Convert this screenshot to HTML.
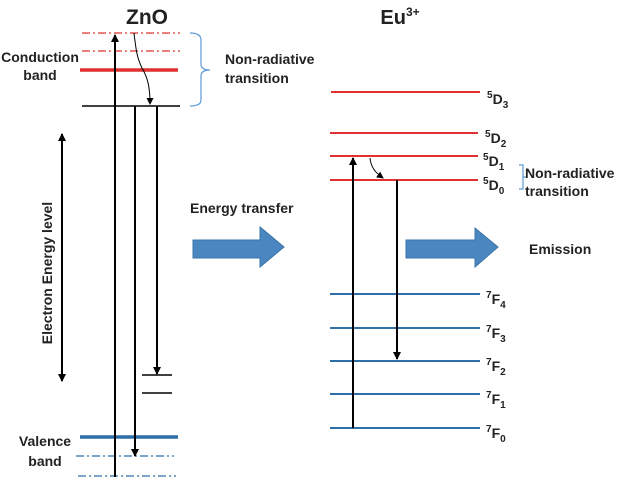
<!DOCTYPE html>
<html><head><style>
html,body{margin:0;padding:0;background:#fff;}
svg text{font-family:"Liberation Sans",sans-serif;font-weight:bold;fill:#222;}
</style></head><body>
<svg width="625" height="477" viewBox="0 0 625 477" xmlns="http://www.w3.org/2000/svg">
<defs>
<marker id="ah" markerWidth="8" markerHeight="8" refX="7" refY="4" orient="auto" markerUnits="userSpaceOnUse">
<path d="M0,0 L8,4 L0,8 z" fill="#000"/></marker>
<marker id="ahs" markerWidth="7" markerHeight="7" refX="6" refY="3.5" orient="auto" markerUnits="userSpaceOnUse">
<path d="M0,0 L7,3.5 L0,7 z" fill="#000"/></marker>
</defs>
<text x="147" y="24" font-size="21" text-anchor="middle">ZnO</text>
<text x="40" y="62" font-size="14" text-anchor="middle">Conduction</text>
<text x="40" y="80" font-size="14" text-anchor="middle">band</text>
<text x="45" y="446" font-size="14" text-anchor="middle">Valence</text>
<text x="45" y="466" font-size="14" text-anchor="middle">band</text>
<!-- ZnO levels -->
<line x1="82" y1="33" x2="180" y2="33" stroke="#e03030" stroke-width="1.2" stroke-dasharray="8,3,2,3"/>
<line x1="82" y1="51" x2="180" y2="51" stroke="#e03030" stroke-width="1.2" stroke-dasharray="8,3,2,3"/>
<line x1="80" y1="70" x2="178" y2="70" stroke="#e03030" stroke-width="3.5"/>
<line x1="82" y1="106" x2="180" y2="106" stroke="#000" stroke-width="1.5"/>
<line x1="142" y1="375" x2="172" y2="375" stroke="#000" stroke-width="1.5"/>
<line x1="142" y1="393" x2="172" y2="393" stroke="#000" stroke-width="1.5"/>
<line x1="80" y1="437" x2="178" y2="437" stroke="#2d6fa8" stroke-width="3.5"/>
<line x1="76" y1="456" x2="174" y2="456" stroke="#2d6fa8" stroke-width="1.2" stroke-dasharray="8,3,2,3"/>
<line x1="78" y1="476" x2="176" y2="476" stroke="#2d6fa8" stroke-width="1.2" stroke-dasharray="8,3,2,3"/>
<!-- ZnO arrows -->
<line x1="115" y1="477" x2="115" y2="35" stroke="#000" stroke-width="2" marker-end="url(#ah)"/>
<line x1="135" y1="106" x2="135" y2="456" stroke="#000" stroke-width="2" marker-end="url(#ah)"/>
<line x1="157" y1="106" x2="157" y2="374" stroke="#000" stroke-width="2" marker-end="url(#ah)"/>
<path d="M134,33 C136,50 137,58 142,68 C148,78 150,88 150,104" fill="none" stroke="#000" stroke-width="1" marker-end="url(#ahs)"/>
<!-- brace -->
<path d="M190,33 Q201,33 201,40 L201,64 Q201,70 210,70 Q201,70 201,76 L201,100 Q201,106 190,106" fill="none" stroke="#5b9bd5" stroke-width="1.2"/>
<text x="225" y="64" font-size="14">Non-radiative</text>
<text x="225" y="83" font-size="14">transition</text>
<!-- energy axis -->
<line x1="62" y1="380" x2="62" y2="134" stroke="#000" stroke-width="2" marker-end="url(#ah)"/>
<line x1="62" y1="134" x2="62" y2="381" stroke="#000" stroke-width="2" marker-end="url(#ah)"/>
<text x="0" y="0" font-size="14" text-anchor="middle" transform="translate(52,273) rotate(-90)">Electron Energy level</text>
<!-- Eu -->
<text x="400" y="24" font-size="20" text-anchor="middle">Eu<tspan font-size="12" dy="-8">3+</tspan></text>
<g stroke="#e03030" stroke-width="2">
<line x1="331" y1="92" x2="480" y2="92"/>
<line x1="330" y1="133" x2="478" y2="133"/>
<line x1="330" y1="156" x2="478" y2="156"/>
<line x1="330" y1="180" x2="478" y2="180"/>
</g>
<g stroke="#2d6fa8" stroke-width="2">
<line x1="330" y1="294" x2="480" y2="294"/>
<line x1="330" y1="328" x2="480" y2="328"/>
<line x1="330" y1="361" x2="480" y2="361"/>
<line x1="330" y1="394" x2="480" y2="394"/>
<line x1="330" y1="428" x2="480" y2="428"/>
</g>
<g font-size="14">
<text x="487" y="104"><tspan font-size="10" dy="-6">5</tspan><tspan dy="6">D</tspan><tspan font-size="10" dy="4">3</tspan></text>
<text x="485" y="143"><tspan font-size="10" dy="-6">5</tspan><tspan dy="6">D</tspan><tspan font-size="10" dy="4">2</tspan></text>
<text x="483" y="166"><tspan font-size="10" dy="-6">5</tspan><tspan dy="6">D</tspan><tspan font-size="10" dy="4">1</tspan></text>
<text x="483" y="190"><tspan font-size="10" dy="-6">5</tspan><tspan dy="6">D</tspan><tspan font-size="10" dy="4">0</tspan></text>
<text x="486" y="304"><tspan font-size="10" dy="-6">7</tspan><tspan dy="6">F</tspan><tspan font-size="10" dy="4">4</tspan></text>
<text x="486" y="338"><tspan font-size="10" dy="-6">7</tspan><tspan dy="6">F</tspan><tspan font-size="10" dy="4">3</tspan></text>
<text x="486" y="371"><tspan font-size="10" dy="-6">7</tspan><tspan dy="6">F</tspan><tspan font-size="10" dy="4">2</tspan></text>
<text x="486" y="404"><tspan font-size="10" dy="-6">7</tspan><tspan dy="6">F</tspan><tspan font-size="10" dy="4">1</tspan></text>
<text x="486" y="438"><tspan font-size="10" dy="-6">7</tspan><tspan dy="6">F</tspan><tspan font-size="10" dy="4">0</tspan></text>
</g>
<path d="M519,165 L523,165 L523,177 L527,177 L523,177 L523,189 L519,189" fill="none" stroke="#5b9bd5" stroke-width="1.2"/>
<text x="525" y="178" font-size="14">Non-radiative</text>
<text x="525" y="196" font-size="14">transition</text>
<line x1="353" y1="428" x2="353" y2="158" stroke="#000" stroke-width="2" marker-end="url(#ah)"/>
<line x1="397" y1="180" x2="397" y2="359" stroke="#000" stroke-width="2" marker-end="url(#ah)"/>
<path d="M370,158 C371,168 376,173 383,178" fill="none" stroke="#000" stroke-width="1" marker-end="url(#ahs)"/>
<!-- fat arrows -->
<path d="M193,240 L260,240 L260,227 L284,247 L260,267 L260,258 L193,258 z" fill="#4a86c0" stroke="#3b74a8" stroke-width="1"/>
<path d="M406,240 L475,240 L475,228 L498,247 L475,267 L475,258 L406,258 z" fill="#4a86c0" stroke="#3b74a8" stroke-width="1"/>
<text x="190" y="213" font-size="14">Energy transfer</text>
<text x="529" y="254" font-size="14">Emission</text>
</svg>
</body></html>
